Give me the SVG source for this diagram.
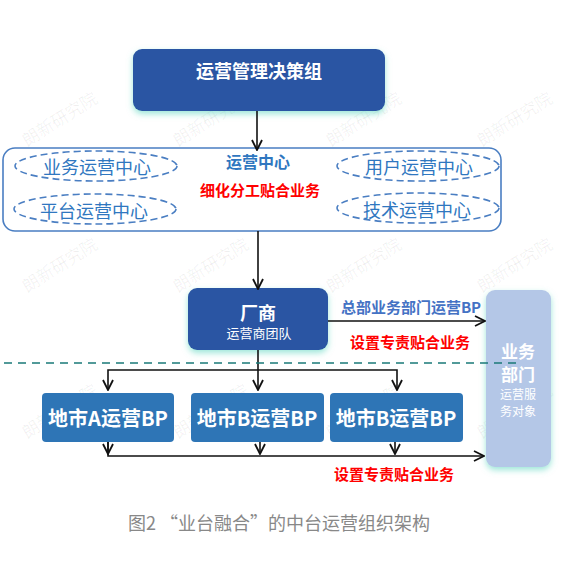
<svg xmlns="http://www.w3.org/2000/svg" width="562" height="561" viewBox="0 0 562 561">
<style>
text{font-family:"Noto Sans CJK SC","Noto Sans",sans-serif;text-anchor:middle;dominant-baseline:central}
.wm{font-size:17px;fill:#000;fill-opacity:0.06}
.dark{fill:#2B54A3}
.bp{fill:#2E75B6}
.white{fill:#fff;font-weight:bold}
.ell{fill:none;stroke:#4A7EC2;stroke-width:1.6;stroke-dasharray:7,4}
.etext{fill:#2F77C0;font-size:18px}
.red{fill:#FF0000;font-weight:bold;font-size:15px}
.conn{fill:none;stroke:#111;stroke-width:1.6}
</style>
<defs>
<filter id="glow" x="-20%" y="-20%" width="140%" height="150%">
<feDropShadow dx="0" dy="3" stdDeviation="3" flood-color="#5CD6C0" flood-opacity="0.6"/>
</filter>
<marker id="arr" viewBox="0 0 12 12" refX="11" refY="6" markerWidth="12" markerHeight="12" markerUnits="userSpaceOnUse" orient="auto">
<path d="M1,1 L11,6 L1,11" fill="none" stroke="#111" stroke-width="1.8"/>
</marker>
</defs>
<rect width="562" height="561" fill="#fff"/>
<g id="watermarks">
<text class="wm" transform="translate(59,118) rotate(-32)">朗新研究院</text>
<text class="wm" transform="translate(210,118) rotate(-32)">朗新研究院</text>
<text class="wm" transform="translate(363,118) rotate(-32)">朗新研究院</text>
<text class="wm" transform="translate(514,118) rotate(-32)">朗新研究院</text>
<text class="wm" transform="translate(59,264) rotate(-32)">朗新研究院</text>
<text class="wm" transform="translate(210,264) rotate(-32)">朗新研究院</text>
<text class="wm" transform="translate(363,264) rotate(-32)">朗新研究院</text>
<text class="wm" transform="translate(514,264) rotate(-32)">朗新研究院</text>
<text class="wm" transform="translate(59,410) rotate(-32)">朗新研究院</text>
<text class="wm" transform="translate(210,410) rotate(-32)">朗新研究院</text>
<text class="wm" transform="translate(363,410) rotate(-32)">朗新研究院</text>
<text class="wm" transform="translate(514,410) rotate(-32)">朗新研究院</text>
</g>
<g id="decision">
<rect class="dark" x="133" y="49" width="252" height="62" rx="9" filter="url(#glow)"/>
<text class="white" x="259" y="70" font-size="18">运营管理决策组</text>
</g>
<g id="center">
<rect x="3" y="148" width="498" height="83" rx="12" fill="#fff" stroke="#4A7EC2" stroke-width="1.6"/>
<text x="258" y="161" font-size="16" font-weight="bold" fill="#2F77C0">运营中心</text>
<text class="red" x="260" y="189">细化分工贴合业务</text>
</g>
<g id="biz-center"><ellipse class="ell" cx="96" cy="166" rx="81" ry="15"/><text class="etext" x="97" y="166">业务运营中心</text></g>
<g id="platform-center"><ellipse class="ell" cx="95" cy="209" rx="81" ry="15"/><text class="etext" x="94" y="210">平台运营中心</text></g>
<g id="user-center"><ellipse class="ell" cx="418" cy="166" rx="81" ry="15"/><text class="etext" x="419" y="166">用户运营中心</text></g>
<g id="tech-center"><ellipse class="ell" cx="418" cy="208" rx="81" ry="15"/><text class="etext" x="417" y="209">技术运营中心</text></g>
<g id="vendor">
<rect class="dark" x="188" y="288" width="140" height="62" rx="9" filter="url(#glow)"/>
<text class="white" x="258" y="312" font-size="18">厂商</text>
<text x="259" y="332" font-size="13" fill="#fff">运营商团队</text>
</g>
<g id="business-dept">
<rect x="486" y="290" width="65" height="177" rx="9" fill="#B4C7E7" filter="url(#glow)"/>
<text class="white" x="518" y="350" font-size="17">业务</text>
<text class="white" x="518" y="373" font-size="17">部门</text>
<text x="518" y="393" font-size="12" fill="#fff">运营服</text>
<text x="518" y="410" font-size="12" fill="#fff">务对象</text>
</g>
<g id="bp-a"><rect class="bp" x="42" y="393" width="132" height="49" rx="4"/><text class="white" x="108" y="417" font-size="20">地市A运营BP</text></g>
<g id="bp-b1"><rect class="bp" x="191" y="393" width="133" height="49" rx="4"/><text class="white" x="257" y="417" font-size="20">地市B运营BP</text></g>
<g id="bp-b2"><rect class="bp" x="330" y="393" width="133" height="49" rx="4"/><text class="white" x="396" y="417" font-size="20">地市B运营BP</text></g>
<g id="connectors">
<path class="conn" d="M257,111 V150" marker-end="url(#arr)"/>
<path class="conn" d="M258,231 V289" marker-end="url(#arr)"/>
<path class="conn" d="M328,321 H485" marker-end="url(#arr)"/>
<path class="conn" d="M258,350 V390" marker-end="url(#arr)"/>
<path class="conn" d="M258,370 H108 V390" marker-end="url(#arr)"/>
<path class="conn" d="M258,370 H397 V390" marker-end="url(#arr)"/>
<path class="conn" d="M108,442 V454" marker-end="url(#arr)"/>
<path class="conn" d="M260,442 V454" marker-end="url(#arr)"/>
<path class="conn" d="M395,442 V454" marker-end="url(#arr)"/>
<path class="conn" d="M108,442 V456 H484" marker-end="url(#arr)"/>
<line x1="4" y1="363" x2="518" y2="363" stroke="#1A7A78" stroke-width="1.6" stroke-dasharray="8,6"/>
</g>
<g id="labels">
<text x="411" y="306" font-size="15" font-weight="bold" fill="#4472C4">总部业务部门运营BP</text>
<text class="red" x="410" y="341">设置专责贴合业务</text>
<text class="red" x="394" y="473">设置专责贴合业务</text>
<text x="279" y="522" font-size="18" fill="#888">图2  “业台融合”的中台运营组织架构</text>
</g>
</svg>
